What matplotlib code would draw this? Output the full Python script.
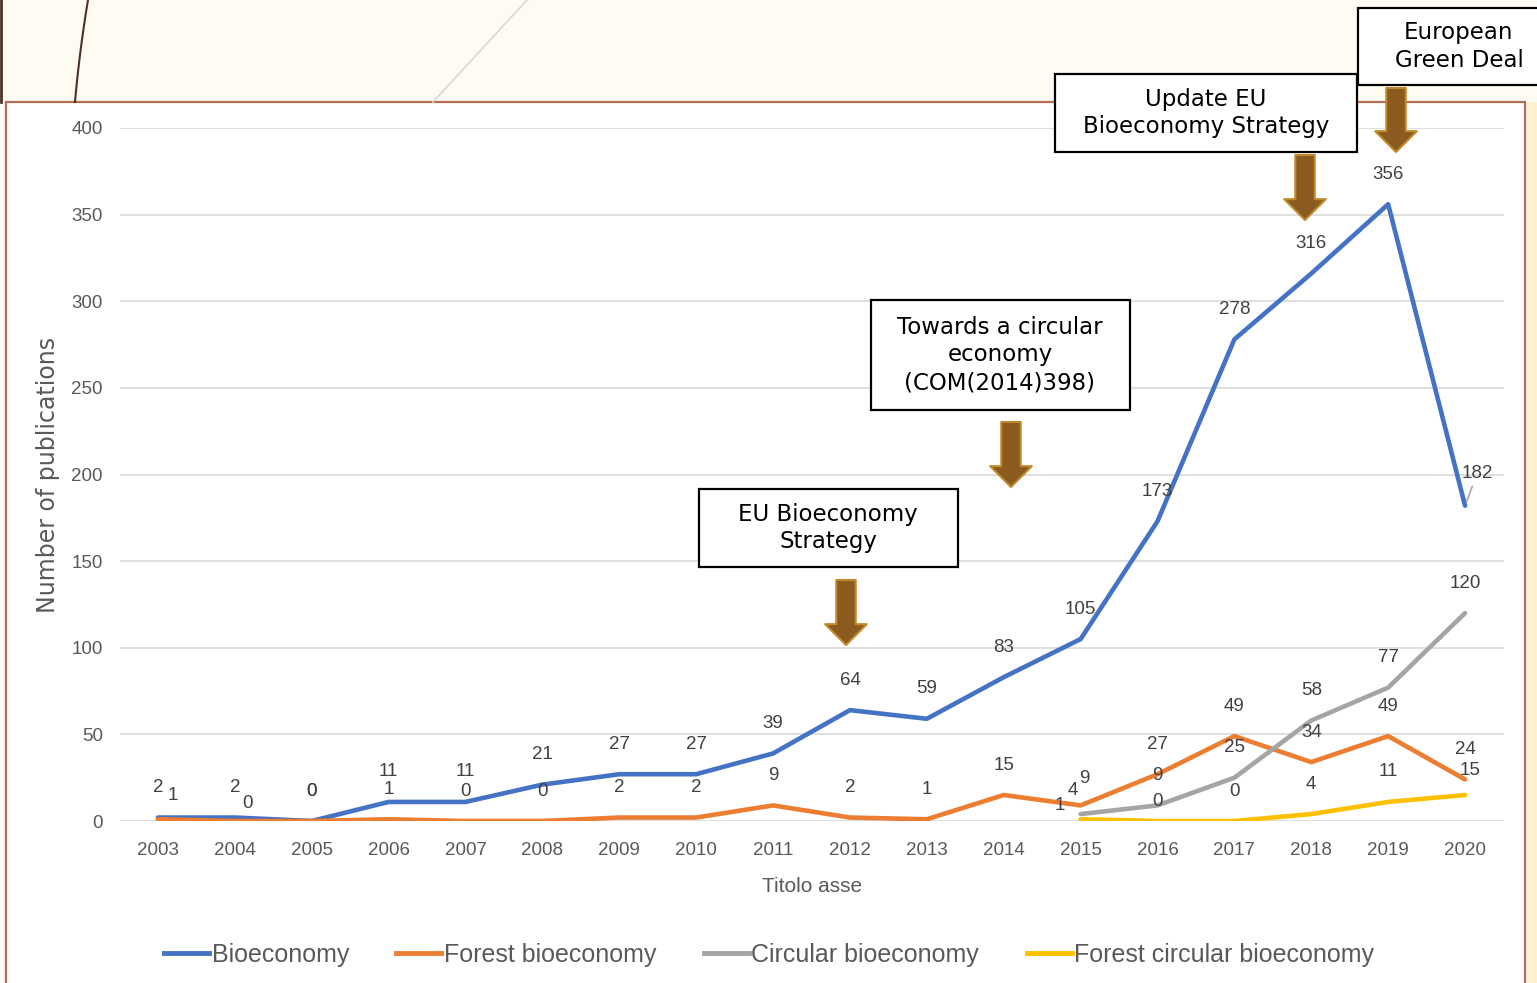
import numpy as np
import matplotlib
matplotlib.use("Agg")
import matplotlib.pyplot as plt
from matplotlib.patches import Rectangle, FancyArrowPatch
from matplotlib.lines import Line2D
from matplotlib import font_manager

# ---- data ----
years = [2003, 2004, 2005, 2006, 2007, 2008, 2009, 2010, 2011,
         2012, 2013, 2014, 2015, 2016, 2017, 2018, 2019, 2020]
bioeconomy = [2, 2, 0, 11, 11, 21, 27, 27, 39, 64, 59, 83, 105, 173, 278, 316, 356, 182]
forest_bio = [1, 0, 0, 1, 0, 0, 2, 2, 9, 2, 1, 15, 9, 27, 49, 34, 49, 24]
circular_years = [2015, 2016, 2017, 2018, 2019, 2020]
circular_bio = [4, 9, 25, 58, 77, 120]
forest_circular = [1, 0, 0, 4, 11, 15]

series_names = ["Bioeconomy", "Forest bioeconomy", "Circular bioeconomy",
                "Forest circular bioeconomy"]
series_colors = ["#4472C4", "#ED7D31", "#A5A5A5", "#FFC000"]

events = ["EU Bioeconomy\nStrategy",
          "Towards a circular\neconomy\n(COM(2014)398)",
          "Update EU\nBioeconomy Strategy",
          "European\nGreen Deal"]

W, H = 1537, 983

def fx(x):
    return x / W

def fy(y):
    return 1 - y / H

names = {f.name for f in font_manager.fontManager.ttflist}
narrow = "Liberation Sans Narrow" if "Liberation Sans Narrow" in names else "Liberation Sans"

fig = plt.figure(figsize=(W / 100, H / 100), dpi=100, facecolor="#FEFBF3")

# slide decorations
t = np.linspace(0, 1, 30)
fig.add_artist(Line2D(fx(88 - 13 * t - 4 * t * (1 - t)), fy(102 * t),
                      transform=fig.transFigure, color="#4A3428", lw=1.5))
fig.add_artist(Line2D([fx(527), fx(433)], [fy(0), fy(102)],
                      transform=fig.transFigure, color="#DCD8CC", lw=1.2))
fig.add_artist(Line2D([fx(1), fx(1)], [fy(0), fy(102)],
                      transform=fig.transFigure, color="#4A3428", lw=2))
fig.add_artist(Rectangle((fx(1527), 0), 1 - fx(1527), fy(102), transform=fig.transFigure,
                         fc="#FFF1CF", ec="none", zorder=0))

# chart area
fig.add_artist(Rectangle((fx(6), -0.01), fx(1525) - fx(6), fy(102) + 0.01,
                         transform=fig.transFigure, fc="white", ec="#B46E55",
                         lw=1.6, zorder=0))

ax = fig.add_axes([fx(119.5), fy(821), fx(1503.5) - fx(119.5), fy(128) - fy(821)])
ax.set_facecolor("none")

x_all = np.arange(len(years))
x_circ = np.array([years.index(y) for y in circular_years])

lw = 3.3
ax.plot(x_all, bioeconomy, color=series_colors[0], lw=lw, solid_capstyle="round", zorder=3)
ax.plot(x_all, forest_bio, color=series_colors[1], lw=lw, solid_capstyle="round", zorder=3)
ax.plot(x_circ, circular_bio, color=series_colors[2], lw=lw, solid_capstyle="round", zorder=3)
ax.plot(x_circ, forest_circular, color=series_colors[3], lw=lw, solid_capstyle="round", zorder=3)

ax.set_xlim(-0.5, len(years) - 0.5)
ax.set_ylim(0, 400)
ax.set_yticks(np.arange(0, 401, 50))
ax.set_xticks(x_all)
ax.set_xticklabels([str(y) for y in years])
ax.tick_params(axis="both", length=0, colors="#595959", labelsize=13.5)
ax.tick_params(axis="y", pad=12)
ax.tick_params(axis="x", pad=15)
for lab in ax.get_xticklabels() + ax.get_yticklabels():
    lab.set_fontfamily(narrow)
ax.grid(axis="y", color="#D9D9D9", lw=1.2)
ax.set_axisbelow(True)
for s in ax.spines.values():
    s.set_visible(False)

# data labels (offsets in px: dx, up)
nudge = {
    (1, 2003): (15, 24), (1, 2004): (13, 18),
    (2, 2015): (-8, 24), (1, 2015): (4, 27), (3, 2015): (-21, 14),
    (3, 2016): (0, 20), (3, 2020): (5, 25),
}
all_series = [(x_all, bioeconomy), (x_all, forest_bio),
              (x_circ, circular_bio), (x_circ, forest_circular)]
for si, (xs, vals) in enumerate(all_series):
    for xi, v in zip(xs, vals):
        yr = years[xi]
        if si == 0 and yr == 2020:
            ax.annotate(str(v), (xi, v), xytext=(12 * 0.72, 32 * 0.72),
                        textcoords="offset points", ha="center", va="center",
                        fontsize=13.5, family=narrow, color="#404040",
                        arrowprops=dict(arrowstyle="-", color="#A6A6A6", lw=1.2,
                                        shrinkA=1, shrinkB=3))
            continue
        dx, up = nudge.get((si, yr), (0, 30))
        ax.annotate(str(v), (xi, v), xytext=(dx * 0.72, up * 0.72),
                    textcoords="offset points", ha="center", va="center",
                    fontsize=13.5, family=narrow, color="#404040", zorder=4)

# axis titles
fig.text(fx(48), fy(475), "Number of publications", rotation=90, ha="center",
         va="center", fontsize=17, color="#595959", family="DejaVu Sans")
fig.text(fx(812), fy(886), "Titolo asse", ha="center", va="center",
         fontsize=15, color="#595959", family=narrow)

# event boxes and arrows
boxes = [(699, 489, 958, 567), (871, 300, 1130, 410),
         (1055, 74, 1357, 152), (1358, 8, 1545, 85)]
text_x = [828, 1000, 1206, 1459]
arrows = [(846, 580, 645), (1011, 422, 487), (1305, 155, 220), (1396, 88, 152)]
for (x0, y0, x1, y1), tx, label in zip(boxes, text_x, events):
    fig.add_artist(Rectangle((fx(x0), fy(y1)), fx(x1) - fx(x0), fy(y0) - fy(y1),
                             transform=fig.transFigure, fc="white", ec="black",
                             lw=1.6, zorder=5))
    fig.text(fx(tx), fy((y0 + y1) / 2), label, ha="center", va="center",
             fontsize=16.5, color="black", family="DejaVu Sans",
             linespacing=1.25, zorder=6)
for x, y_tail, y_tip in arrows:
    fig.add_artist(FancyArrowPatch(
        (fx(x), fy(y_tail)), (fx(x), fy(y_tip)), transform=fig.transFigure,
        arrowstyle="simple,head_length=15,head_width=30,tail_width=14",
        mutation_scale=1, fc="#8B5A1E", ec="#C08A2A", lw=1.5,
        shrinkA=0, shrinkB=0, zorder=6))

# legend
handles = [Line2D([], [], color=c, lw=3.5) for c in series_colors]
leg = fig.legend(handles, series_names, loc="center", bbox_to_anchor=(fx(769), fy(955)),
                 ncol=4, frameon=False, prop={"family": narrow, "size": 18},
                 handlelength=1.8, handletextpad=0.1, columnspacing=1.9)
for txt in leg.get_texts():
    txt.set_color("#595959")

fig.savefig("out.png", dpi=100, facecolor=fig.get_facecolor())
